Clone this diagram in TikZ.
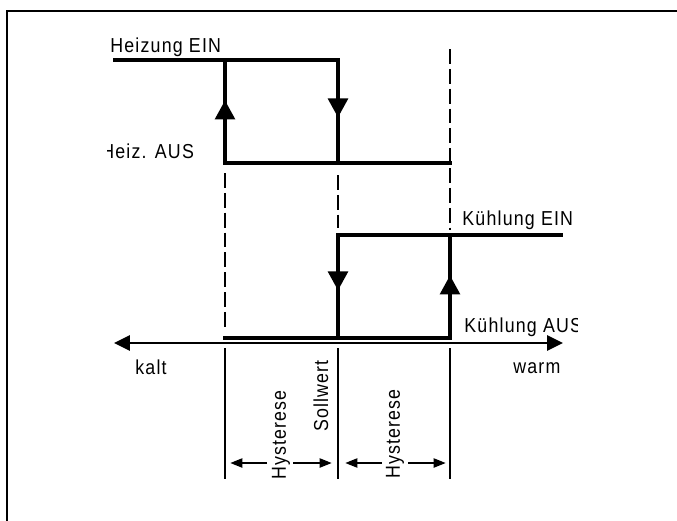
\documentclass[tikz,border=0pt]{standalone}
\usepackage{fontspec}
\setmainfont{Liberation Sans}[LetterSpace=6, FakeStretch=0.88]
\usepackage{tikz}
\usetikzlibrary{arrows.meta,decorations.markings}

\tikzset{
  stepline/.style={line width=2.8pt, line cap=rect},
  midtip/.style={postaction={decorate},
    decoration={markings, mark=at position #1 with {\arrow{Triangle[length=11pt,width=11pt]}}}},
  guide/.style={line width=1.4pt, dash pattern=on 8.5pt off 2.8pt},
  bound/.style={line width=1.4pt},
  hyst/.style={line width=1.5pt, -{Triangle[length=7pt,width=5pt]}},
  lbl/.style={font=\fontsize{11.5}{13}\selectfont, inner sep=0pt},
}

\begin{document}
\begin{tikzpicture}[x=0.02cm, y=-0.02cm]
    \useasboundingbox (0,0) rectangle (677,521);
    % frame, open at right and bottom
    \draw[line width=1.2pt] (7,530) -- (7,11) -- (690,11);

    % corner points
    \coordinate (hL) at (115,60);
    \coordinate (h1) at (225,60);
    \coordinate (h2) at (338,60);
    \coordinate (a1) at (225,163);
    \coordinate (a2) at (338,163);
    \coordinate (aR) at (450,163);
    \coordinate (k1) at (338,235);
    \coordinate (k2) at (450,235);
    \coordinate (kR) at (561,235);
    \coordinate (u1) at (225,338);
    \coordinate (u2) at (338,338);
    \coordinate (u3) at (450,338);

    % heating loop
    \draw[stepline] (hL) -- (h2);
    \draw[stepline] (a1) -- (aR);
    \draw[stepline, midtip=0.61] (a1) -- (h1);
    \draw[stepline, midtip=0.56] (h2) -- (a2);

    % cooling loop
    \draw[stepline] (k1) -- (kR);
    \draw[stepline] (u1) -- (u3);
    \draw[stepline, midtip=0.54] (k1) -- (u2);
    \draw[stepline, midtip=0.61] (u3) -- (k2);

    % dashed guides
    \draw[guide] (225,173) -- (225,327);
    \draw[guide] (338,175) -- (338,228);
    \draw[guide] (450,49) -- (450,230);

    % temperature axis
    \coordinate (kaltEnd) at (114,343);
    \coordinate (warmEnd) at (563,343);
    \draw[line width=1.5pt, {Triangle[length=9pt,width=8.5pt]}-{Triangle[length=9pt,width=8.5pt]}] (kaltEnd) -- (warmEnd);

    \foreach \x in {225,338,450}
      \draw[bound] (\x,348) -- (\x,479);

    \draw[hyst] (267,463) -- (230,463);
    \draw[hyst] (293,463) -- (332,463);
    \draw[hyst] (382,463) -- (345,463);
    \draw[hyst] (408,463) -- (446,463);

    % labels
    \begin{scope}
      \clip (107,0) rectangle (577,521);
      \node[lbl, anchor=base west] (heizEin) at (110,52) {Heizung EIN};
      \node[lbl, anchor=base west] (heizAus) at (101,158) {Heiz. AUS};
      \node[lbl, anchor=base west] (kuehlEin) at (462,225) {Kühlung EIN};
      \node[lbl, anchor=base west] (kuehlAus) at (464,332) {Kühlung AUS};
    \end{scope}
    \node[lbl, anchor=base west] (kalt) at (135,374) {kalt};
    \node[lbl, anchor=base west] (warm) at (513,373) {warm};
    \node[lbl, rotate=90] (soll) at (321,396) {Sollwert};
    \node[lbl, rotate=90] (hystL) at (281,435) {Hysterese};
    \node[lbl, rotate=90] (hystR) at (395,434) {Hysterese};
  \end{tikzpicture}
\end{document}
